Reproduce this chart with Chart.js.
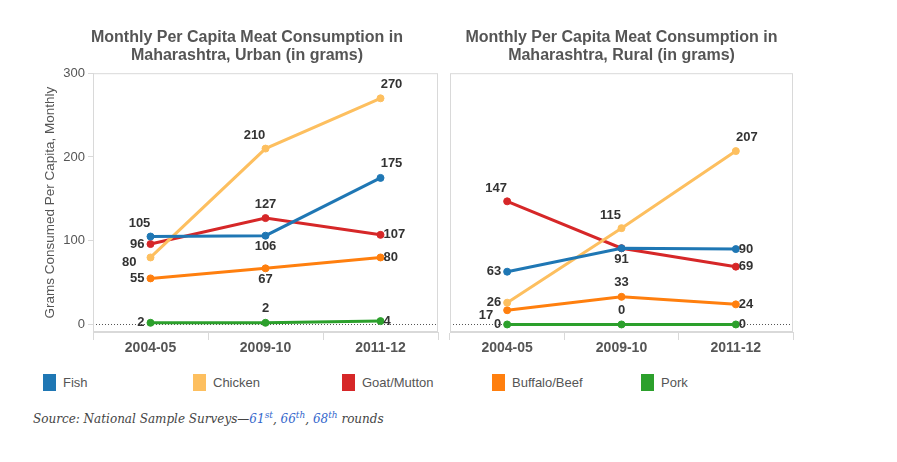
<!DOCTYPE html>
<html>
<head>
<meta charset="utf-8">
<script src="https://cdn.jsdelivr.net/npm/chart.js@4.4.0/dist/chart.umd.min.js"></script>
<style>
  body { margin: 0; background: #fff; width: 897px; height: 462px; overflow: hidden; font-family: Arial, "Liberation Sans", sans-serif; }
  #urban { position: absolute; left: 0; top: 0; }
  #rural { position: absolute; left: 449px; top: 0; }
  #legend { position: absolute; left: 43px; top: 374px; }
  .item { position: absolute; top: 0; height: 17px; white-space: nowrap; }
  .item i { position: absolute; left: 0; top: 0; width: 13px; height: 17px; }
  .item span { position: absolute; left: 20px; top: 0; line-height: 17px; font-size: 13px; color: #555; }
  #source { position: absolute; left: 33px; top: 410px; font: italic 12px "DejaVu Serif", Georgia, serif; color: #444; }
  #source a { color: #3366cc; text-decoration: none; }
  #source sup { font-size: 9px; }
</style>
</head>
<body>
<canvas id="urban" width="494" height="370"></canvas>
<canvas id="rural" width="346" height="370"></canvas>
<div id="legend"></div>
<div id="source">Source: National Sample Surveys—<a>61<sup>st</sup></a>, <a>66<sup>th</sup></a>, <a>68<sup>th</sup></a> rounds</div>
<script>
const periods = ['2004-05', '2009-10', '2011-12'];
const meats = ['Fish', 'Chicken', 'Goat/Mutton', 'Buffalo/Beef', 'Pork'];
const meatColors = ['#1f77b4', '#fdbf5f', '#d62728', '#ff7f0e', '#2ca02c'];
const yTicks = [0, 100, 200, 300];

// urban, grams per capita per month
const urbanFish = [105, 106, 175];
const urbanChicken = [80, 210, 270];
const urbanGoat = [96, 127, 107];
const urbanBeef = [55, 67, 80];
const urbanPork = [2, 2, 4];

// rural
const ruralFish = [63, 91, 90];
const ruralChicken = [26, 115, 207];
const ruralGoat = [147, 91, 69];
const ruralBeef = [17, 33, 24];
const ruralPork = [0, 0, 0];

// where each value label sits relative to its point ('' = not shown)
const urbanLabelAt = [['tl', 'b', 'tr'], ['lb', 'tl', 'tr'], ['l', 't', 'r'], ['l', 'b', 'r'], ['l', 't', 'r']];
const ruralLabelAt = [['l', 'b', 'r'], ['l', 'tl', 'tr'], ['tl', '', 'r'], ['lb', 't', 'r'], ['l', 't', 'r']];

const offsets = {
    t: [0, -14, 'center'], tl: [-11, -13, 'center'], tr: [11, -14, 'center'],
    b: [0, 11, 'center'], l: [-6, 0, 'right'], lb: [-14, 5, 'right'], r: [3, 0, 'left']
};

const valueLabels = {
    id: 'valueLabels',
    afterDatasetsDraw(chart, args, opts) {
        const ctx = chart.ctx;
        ctx.save();
        ctx.font = 'bold 13px Arial, "Liberation Sans", sans-serif';
        ctx.fillStyle = '#333';
        ctx.textBaseline = 'middle';
        chart.data.datasets.forEach((ds, i) => {
            chart.getDatasetMeta(i).data.forEach((pt, j) => {
                const code = opts.at[i][j];
                if (!code) return;
                const [dx, dy, align] = offsets[code];
                ctx.textAlign = align;
                ctx.fillText(String(ds.data[j]), pt.x + dx, pt.y + dy);
            });
        });
        ctx.restore();
    }
};

// box round the plot and the dotted zero line
const frame = {
    id: 'frame',
    beforeDatasetsDraw(chart) {
        const { ctx, chartArea: a } = chart;
        const y0 = Math.round(chart.scales.y.getPixelForValue(0)) + 0.5;
        ctx.save();
        ctx.strokeStyle = '#d9d9d9';
        ctx.lineWidth = 1;
        ctx.strokeRect(a.left + 0.5, a.top + 0.5, a.width - 1, a.height - 1);
        ctx.strokeStyle = '#555';
        ctx.setLineDash([1, 2]);
        ctx.beginPath();
        ctx.moveTo(a.left + 3, y0);
        ctx.lineTo(a.right - 2, y0);
        ctx.stroke();
        ctx.restore();
    }
};

function makeChart(id, title, series, labelAt, showY, padLeft, rightGap) {
    const scales = {
        x: {
            offset: true,
            grid: { drawOnChartArea: false, tickLength: 8, color: '#d9d9d9', offset: true },
            border: { color: '#d9d9d9' },
            ticks: { color: '#555', padding: 0, font: { family: 'Arial', size: 14, weight: 'bold' } },
            afterFit: s => { s.height = 38; }
        },
        y: {
            display: showY,
            min: -9,
            max: 300,
            afterBuildTicks: s => { s.ticks = yTicks.map(v => ({ value: v })); },
            grid: { drawOnChartArea: false, tickLength: 5, color: '#d9d9d9' },
            border: { color: '#d9d9d9' },
            ticks: { color: '#555', padding: 3, font: { family: 'Arial', size: 13 } },
            title: {
                display: true,
                text: 'Grams Consumed Per Capita, Monthly',
                color: '#555',
                font: { family: 'Arial', size: 13.5 },
                padding: { top: 42, bottom: 0 }
            },
            afterFit: s => { if (showY) s.width = 93; }
        }
    };
    if (rightGap) {
        // empty strip on the right so the title centres over the whole canvas
        scales.gap = {
            position: 'right',
            min: 0, max: 1,
            grid: { display: false },
            border: { display: false },
            ticks: { display: false },
            afterFit: s => { s.width = rightGap; }
        };
    }
    return new Chart(document.getElementById(id), {
        type: 'line',
        data: {
            labels: periods,
            datasets: series.map((d, i) => ({
                label: meats[i],
                data: d,
                borderColor: meatColors[i],
                backgroundColor: meatColors[i],
                borderWidth: 3,
                pointRadius: 3.5,
                pointBorderWidth: 1,
                pointHoverRadius: 3.5,
                tension: 0
            }))
        },
        options: {
            responsive: false,
            animation: false,
            devicePixelRatio: 1,
            layout: { autoPadding: false, padding: { left: padLeft, right: rightGap ? 0 : 2, top: 0, bottom: 0 } },
            plugins: {
                legend: { display: false },
                tooltip: { enabled: false },
                title: {
                    display: true,
                    text: title,
                    color: '#555',
                    font: { family: 'Arial', size: 16, weight: 'bold', lineHeight: 1.1 },
                    padding: { top: 29, bottom: 9 }
                },
                valueLabels: { at: labelAt }
            },
            scales: scales
        },
        plugins: [frame, valueLabels]
    });
}

makeChart('urban', ['Monthly Per Capita Meat Consumption in', 'Maharashtra, Urban (in grams)'],
    [urbanFish, urbanChicken, urbanGoat, urbanBeef, urbanPork], urbanLabelAt, true, 0, 56);
makeChart('rural', ['Monthly Per Capita Meat Consumption in', 'Maharashtra, Rural (in grams)'],
    [ruralFish, ruralChicken, ruralGoat, ruralBeef, ruralPork], ruralLabelAt, false, 1, 0);

// shared legend
const legend = document.getElementById('legend');
meats.forEach((m, i) => {
    const item = document.createElement('div');
    item.className = 'item';
    item.style.left = Math.round(i * 149.5) + 'px';
    item.innerHTML = '<i style="background:' + meatColors[i] + '"></i><span>' + m + '</span>';
    legend.appendChild(item);
});
</script>
</body>
</html>
